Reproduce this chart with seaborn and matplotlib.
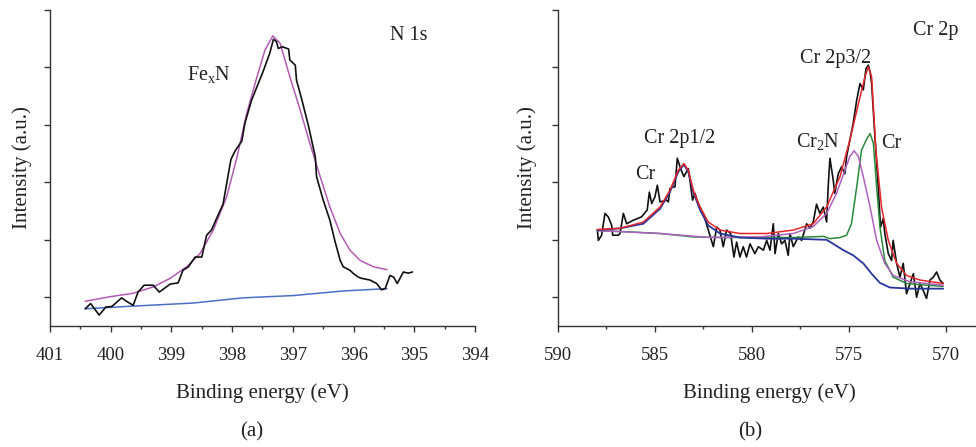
import numpy as np
import pandas as pd
import matplotlib
matplotlib.use("Agg")
import matplotlib.pyplot as plt
from matplotlib.ticker import MultipleLocator, NullFormatter
import seaborn as sns

# ---------------- N 1s spectrum ----------------
n1s_energy = [400.42, 400.33, 400.19, 400.08, 399.98, 399.82, 399.74, 399.63, 399.55, 399.45,
              399.30, 399.20, 399.02, 398.89, 398.81, 398.72, 398.61, 398.50, 398.42, 398.34,
              398.27, 398.15, 398.09, 398.02, 397.95, 397.84, 397.79, 397.68, 397.57, 397.49,
              397.38, 397.32, 397.27, 397.24, 397.17, 397.07, 397.05, 396.96, 396.94, 396.85,
              396.74, 396.63, 396.61, 396.50, 396.39, 396.31, 396.22, 396.17, 396.06, 396.00,
              395.92, 395.87, 395.73, 395.62, 395.54, 395.48, 395.40, 395.34, 395.28, 395.18,
              395.10, 395.03]
n1s_counts = [-0.20, -0.11, -0.31, -0.17, -0.16, -0.01, -0.07, -0.14, 0.09, 0.21,
              0.21, 0.09, 0.23, 0.25, 0.47, 0.53, 0.70, 0.70, 1.08, 1.17,
              1.34, 1.62, 1.98, 2.40, 2.55, 2.72, 3.03, 3.43, 3.72, 3.93,
              4.25, 4.49, 4.45, 4.33, 4.36, 4.32, 4.13, 4.04, 3.78, 3.43,
              2.97, 2.44, 2.10, 1.69, 1.34, 0.99, 0.64, 0.53, 0.47, 0.41,
              0.35, 0.33, 0.30, 0.24, 0.13, 0.15, 0.38, 0.35, 0.24, 0.44,
              0.42, 0.44]

fexn_fit_energy = [400.42, 400.01, 399.63, 399.30, 399.02, 398.75, 398.53, 398.31, 398.09, 397.92,
                   397.76, 397.59, 397.46, 397.33, 397.21, 397.05, 396.88, 396.72, 396.55, 396.39,
                   396.22, 396.06, 395.89, 395.67, 395.45]
fexn_fit = [-0.07, 0.01, 0.07, 0.18, 0.33, 0.53, 0.76, 1.17, 1.75, 2.44,
            3.20, 3.84, 4.30, 4.55, 4.42, 3.84, 3.26, 2.68, 2.10, 1.57,
            1.11, 0.82, 0.64, 0.53, 0.48]

n1s_bg_energy = [400.42, 399.74, 398.64, 397.82, 396.99, 396.17, 395.45]
n1s_bg = [-0.20, -0.16, -0.10, -0.01, 0.03, 0.11, 0.15]

# ---------------- Cr 2p spectrum ----------------
cr_energy = [587.97, 587.92, 587.75, 587.58, 587.41, 587.23, 587.18, 586.89, 586.80, 586.63,
             586.46, 586.12, 585.69, 585.40, 585.29, 585.17, 585.00, 584.88, 584.74, 584.40,
             584.31, 584.23, 584.09, 583.97, 583.85, 583.68, 583.51, 583.28, 583.06, 582.94,
             582.77, 582.51, 582.25, 581.99, 581.82, 581.65, 581.48, 581.31, 581.10, 580.93,
             580.79, 580.62, 580.45, 580.28, 580.10, 579.85, 579.67, 579.41, 579.24, 579.07,
             578.90, 578.81, 578.64, 578.47, 578.30, 578.13, 578.04, 577.87, 577.61, 577.44,
             577.18, 577.01, 576.84, 576.67, 576.50, 576.32, 576.15, 576.07, 575.98, 575.81,
             575.73, 575.55, 575.38, 575.21, 575.12, 574.95, 574.78, 574.60, 574.43, 574.26,
             574.12, 574.00, 573.91, 573.83, 573.66, 573.49, 573.37, 573.23, 573.15, 572.97,
             572.80, 572.72, 572.54, 572.37, 572.20, 572.03, 571.85, 571.68, 571.51, 571.34,
             571.17, 571.00, 570.82, 570.65, 570.48, 570.31, 570.14]
cr_counts = [1.17, 0.99, 1.08, 1.46, 1.40, 1.25, 1.08, 1.08, 1.11, 1.46,
             1.28, 1.34, 1.40, 1.52, 1.83, 1.63, 1.75, 1.95, 1.66, 1.69,
             1.66, 1.89, 1.92, 1.92, 2.42, 2.24, 2.10, 2.24, 1.69, 1.81,
             1.63, 1.46, 1.17, 0.88, 1.22, 1.17, 0.88, 1.17, 1.11, 0.70,
             0.96, 0.70, 0.88, 0.70, 0.93, 0.76, 0.88, 0.82, 0.99, 0.82,
             1.28, 0.76, 1.11, 0.93, 0.99, 0.73, 1.11, 0.88, 1.05, 0.99,
             1.28, 1.20, 1.31, 1.62, 1.46, 1.57, 1.31, 1.92, 2.42, 2.04,
             1.81, 2.15, 2.27, 2.15, 2.45, 2.74, 3.03, 3.43, 3.72, 3.61,
             3.98, 4.04, 3.93, 3.72, 2.79, 1.92, 1.22, 1.37, 1.11, 0.76,
             0.64, 0.99, 0.59, 0.35, 0.59, 0.06, 0.24, 0.41, 0.00, 0.24,
             0.12, -0.02, 0.30, 0.35, 0.44, 0.30, 0.24]

envelope_energy = [587.97, 586.80, 585.60, 584.74, 584.23, 583.80, 583.51, 583.28, 583.02, 582.68,
                   582.25, 581.65, 580.62, 579.24, 577.87, 576.84, 576.15, 575.46, 574.95, 574.51,
                   574.17, 574.00, 573.83, 573.61, 573.32, 572.97, 572.54, 572.03, 571.34, 570.14]
envelope = [1.18, 1.20, 1.31, 1.57, 1.86, 2.21, 2.33, 2.21, 1.86, 1.57,
            1.31, 1.17, 1.11, 1.11, 1.17, 1.28, 1.57, 2.10, 2.74, 3.37,
            3.84, 4.01, 3.84, 2.56, 1.57, 0.99, 0.59, 0.38, 0.30, 0.24]

cr12_energy = [587.97, 586.80, 585.60, 584.74, 584.23, 583.80, 583.51, 583.28, 583.02, 582.68,
               582.25, 581.65, 580.62, 579.24, 577.87, 576.15, 575.81, 575.29, 574.78, 574.26,
               573.83, 573.40, 572.89, 571.85, 570.14]
cr12 = [1.17, 1.20, 1.28, 1.54, 1.83, 2.18, 2.31, 2.18, 1.83, 1.52,
        1.25, 1.11, 1.04, 1.02, 1.02, 1.00, 0.93, 0.82, 0.73, 0.59,
        0.41, 0.25, 0.17, 0.15, 0.15]

cr32_energy = [587.97, 586.46, 584.74, 583.02, 581.31, 579.59, 577.87, 576.32, 575.98, 575.46,
               575.12, 574.87, 574.60, 574.35, 574.12, 573.91, 573.74, 573.57, 573.40, 573.15,
               572.72, 572.03, 571.00, 570.14]
cr32 = [1.16, 1.14, 1.11, 1.05, 1.04, 1.04, 1.04, 1.06, 1.02, 1.04,
        1.08, 1.28, 1.92, 2.56, 2.73, 2.85, 2.68, 1.92, 1.22, 0.64,
        0.35, 0.24, 0.21, 0.19]

cr2n_energy = [587.97, 584.74, 582.16, 579.59, 577.87, 576.84, 576.15, 575.64, 575.21, 574.95,
               574.74, 574.51, 574.26, 573.91, 573.57, 573.15, 572.72, 571.85, 570.14]
cr2n = [1.16, 1.11, 1.04, 1.05, 1.11, 1.23, 1.46, 1.81, 2.21, 2.45,
        2.55, 2.45, 2.10, 1.57, 0.99, 0.59, 0.38, 0.27, 0.21]

sns.set_style("ticks")
plt.rcParams["font.family"] = ["Liberation Serif", "DejaVu Serif"]
plt.rcParams["mathtext.fontset"] = "custom"
plt.rcParams["mathtext.rm"] = "Liberation Serif"

fig = plt.figure(figsize=(9.76, 4.47), dpi=100)
ax_a = fig.add_axes([50 / 976, 1 - 326 / 447, 425 / 976, 316 / 447])
ax_b = fig.add_axes([558 / 976, 1 - 326 / 447, 417 / 976, 316 / 447])


def trace(ax, x, y, color, lw):
    df = pd.DataFrame({"energy": x, "intensity": y})
    sns.lineplot(data=df, x="energy", y="intensity", ax=ax, color=color,
                 linewidth=lw, sort=False, estimator=None)


# panel (a)
trace(ax_a, n1s_bg_energy, n1s_bg, "#4a6fc4", 1.1)
trace(ax_a, fexn_fit_energy, fexn_fit, "#b45ab4", 1.1)
trace(ax_a, n1s_energy, n1s_counts, "#111111", 1.2)

# panel (b)
trace(ax_b, cr_energy, cr_counts, "#111111", 1.2)
trace(ax_b, cr32_energy, cr32, "#2a8a3a", 1.1)
trace(ax_b, cr2n_energy, cr2n, "#b060c0", 1.1)
trace(ax_b, cr12_energy, cr12, "#28359a", 1.3)
trace(ax_b, envelope_energy, envelope, "#e8262a", 1.1)

ax_a.set_xlim(401, 394)
ax_a.xaxis.set_major_locator(MultipleLocator(1))
ax_a.xaxis.set_minor_locator(MultipleLocator(0.5))
ax_b.set_xlim(590, 568.5)
ax_b.xaxis.set_major_locator(MultipleLocator(5))
ax_b.xaxis.set_minor_locator(MultipleLocator(2.5))

for ax, lx, xl in ((ax_a, 0.5, -0.066), (ax_b, 0.506, -0.074)):
    ax.set_ylim(-0.5, 5)
    ax.set_yticks(range(6))
    ax.yaxis.set_major_formatter(NullFormatter())
    for side in ("top", "right"):
        ax.spines[side].set_visible(False)
    for side in ("left", "bottom"):
        ax.spines[side].set_color("#333333")
        ax.spines[side].set_linewidth(1.0)
    ax.tick_params(axis="both", which="major", direction="out", length=4,
                   width=1.0, color="#333333")
    ax.tick_params(axis="x", which="major", labelsize=13.5, pad=11, labelcolor="#222222")
    ax.tick_params(axis="x", which="minor", direction="out", length=2.5,
                   width=1.0, color="#333333")
    ax.set_xlabel("Binding energy (eV)", fontsize=15, color="#222222")
    ax.xaxis.label.set_va("center")
    ax.xaxis.set_label_coords(lx, -0.212)
    ax.set_ylabel("Intensity (a.u.)", fontsize=15, color="#222222")
    ax.yaxis.label.set_va("center")
    ax.yaxis.set_label_coords(xl, 0.5)

txt = dict(fontsize=14.5, ha="center", va="center", color="#222222")
ax_a.text(398.38, 3.87, r"Fe$_\mathregular{x}$N", **txt)
ax_a.text(395.09, 4.56, "N 1s", **txt)
ax_b.text(570.52, 4.65, "Cr 2p", **txt)
ax_b.text(575.67, 4.16, "Cr 2p3/2", **txt)
ax_b.text(583.71, 2.77, "Cr 2p1/2", **txt)
ax_b.text(585.49, 2.14, "Cr", **txt)
ax_b.text(576.62, 2.70, r"Cr$_\mathregular{2}$N", **txt)
ax_b.text(572.81, 2.68, "Cr", **txt)

fig.text(252 / 976, 1 - 432 / 447, "(a)", fontsize=15, ha="center", va="center", color="#222222")
fig.text(750 / 976, 1 - 432 / 447, "(b)", fontsize=15, ha="center", va="center", color="#222222")

fig.savefig("out.png", dpi=100)
